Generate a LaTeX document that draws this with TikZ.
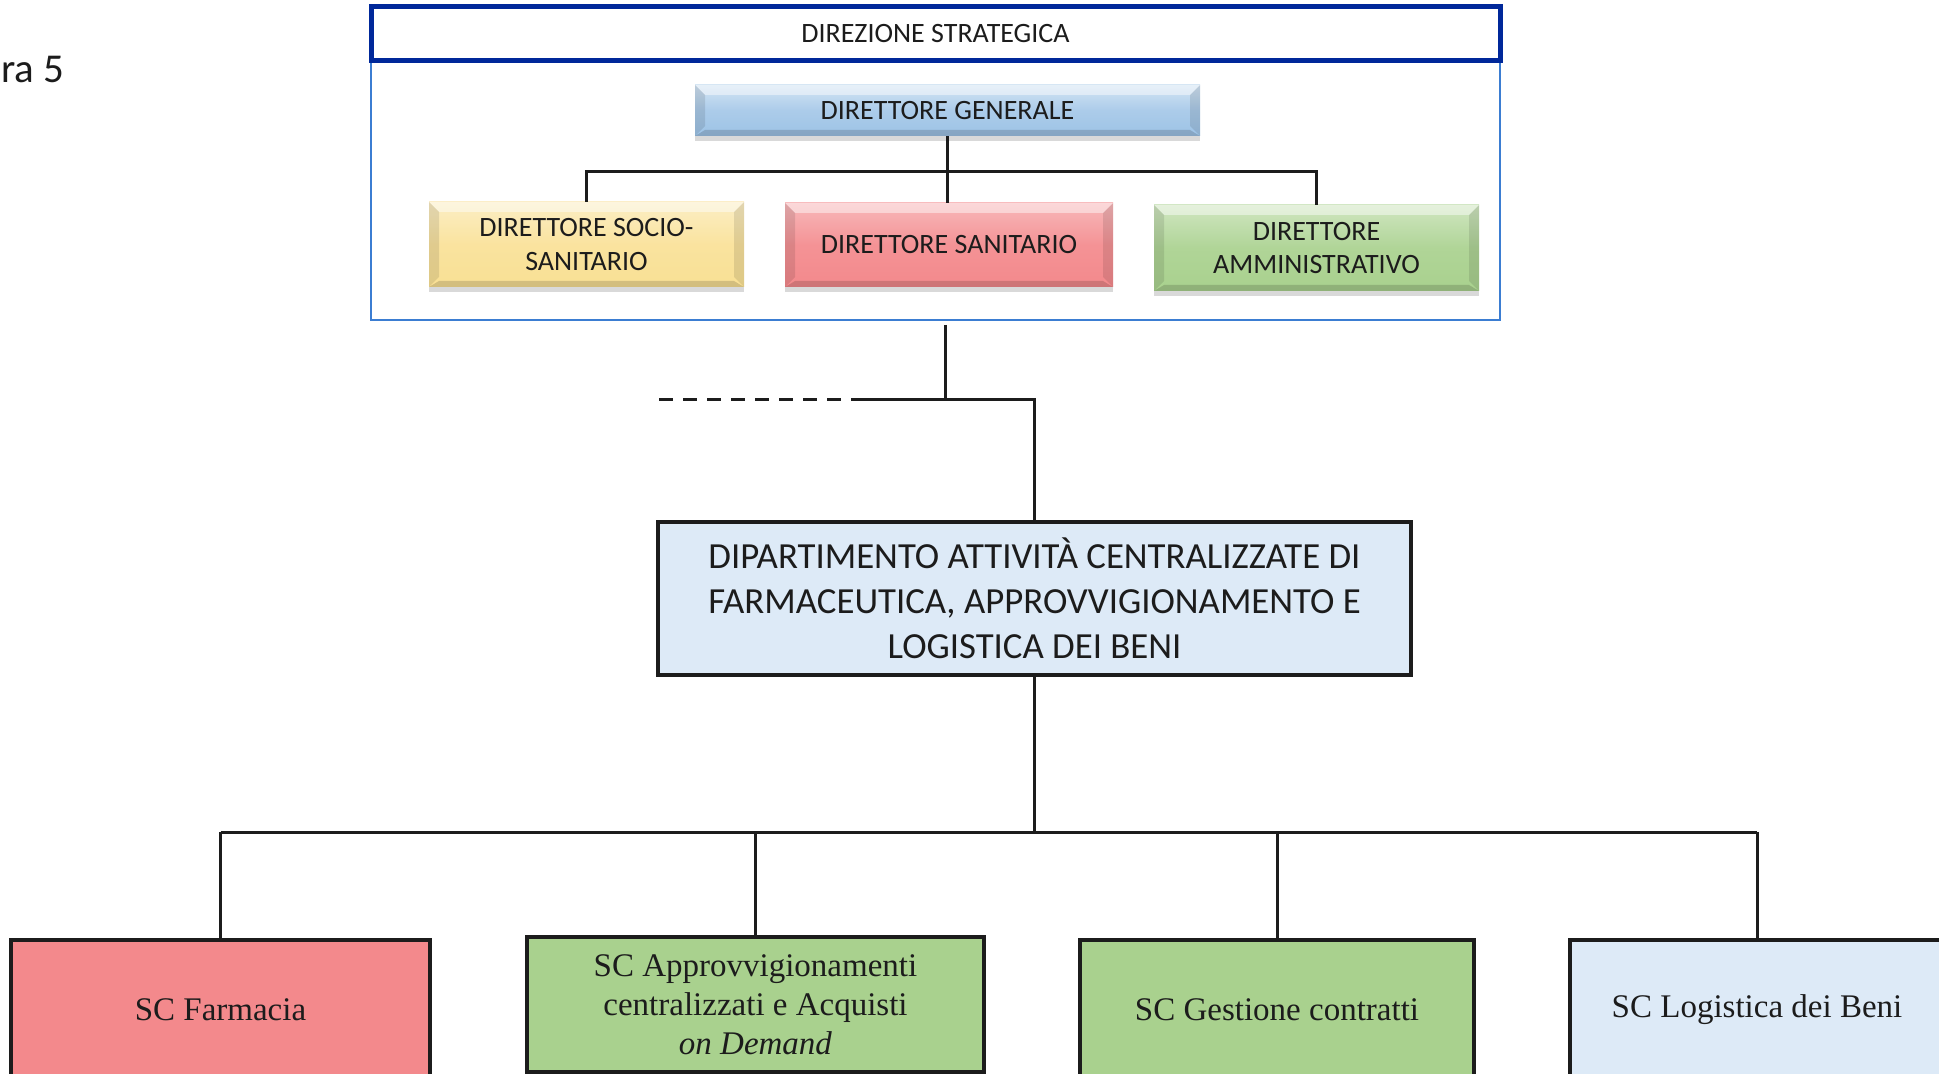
\documentclass[tikz,border=0pt]{standalone}
\usepackage{fontspec}
\setmainfont{Liberation Serif}
\newfontfamily\carlito{Carlito}
\usetikzlibrary{shadows}

\definecolor{dgblue}{HTML}{9DC3E6}
\definecolor{yel}{HTML}{F9E094}
\definecolor{rosso}{HTML}{F3898C}
\definecolor{verde}{HTML}{A9D18E}
\definecolor{celeste}{HTML}{DDEAF7}
\definecolor{hdrblue}{HTML}{00289A}
\definecolor{frameblue}{HTML}{3B7DD2}
\definecolor{ink}{HTML}{1C1C1C}

\tikzset{
  conn/.style={draw=ink, line width=1.5pt},
  bevelled/.style={path picture={
      \fill[white,opacity=.45] (path picture bounding box.north west)
        -- (path picture bounding box.north east) -- ++(-5pt,-5pt)
        -- ([shift={(5pt,-5pt)}]path picture bounding box.north west) -- cycle;
      \fill[black,opacity=.10] (path picture bounding box.north west) -- ++(5pt,-5pt)
        -- ([shift={(5pt,5pt)}]path picture bounding box.south west)
        -- (path picture bounding box.south west) -- cycle;
      \fill[black,opacity=.10] (path picture bounding box.north east) -- ++(-5pt,-5pt)
        -- ([shift={(-5pt,5pt)}]path picture bounding box.south east)
        -- (path picture bounding box.south east) -- cycle;
      \fill[black,opacity=.15] (path picture bounding box.south west)
        -- (path picture bounding box.south east) -- ++(-5pt,3pt)
        -- ([shift={(5pt,3pt)}]path picture bounding box.south west) -- cycle;
    }},
  role/.style={inner sep=0pt, align=center, text=ink, bevelled,
    font=\carlito\fontsize{14pt}{16.8pt}\selectfont,
    drop shadow={opacity=.3, shadow xshift=0pt, shadow yshift=-2.5pt}},
  unit/.style={draw=ink, line width=2pt, inner sep=0pt, align=center, text=ink,
    font=\fontsize{16.5pt}{19.5pt}\selectfont},
}

\begin{document}
\begin{tikzpicture}[x=0.5pt, y=-0.5pt]
\useasboundingbox (0,0) rectangle (1939,1074);
\clip (0,0) rectangle (1939,1074);

% caption fragment at the left edge
\node[anchor=base west, inner sep=0pt, text=ink,
      font=\carlito\fontsize{20.5pt}{24pt}\selectfont] (cap) at (1,83) {ra 5};

% strategic management group
\node[draw=frameblue, line width=1pt, minimum width=564.5pt, minimum height=129.5pt,
      inner sep=0pt] (grp) at (935.5,190.5) {};
\node[draw=hdrblue, fill=white, line width=2.5pt, minimum width=564.5pt,
      minimum height=27pt, inner sep=0pt, text=ink,
      font=\carlito\fontsize{14pt}{16.8pt}\selectfont] (hdr) at (935.5,34) {DIREZIONE STRATEGICA};

\node[role, top color=dgblue!45!white, bottom color=dgblue, middle color=dgblue!85!white,
      minimum width=252.5pt, minimum height=25.5pt] (dg) at (947.5,110.5) {DIRETTORE GENERALE};
\node[role, top color=yel!55!white, bottom color=yel, middle color=yel!90!white,
      minimum width=157.5pt, minimum height=42.5pt] (dss) at (586.5,244.5) {DIRETTORE SOCIO-\\SANITARIO};
\node[role, top color=rosso!60!white, bottom color=rosso, middle color=rosso!92!white,
      minimum width=164pt, minimum height=42pt] (ds) at (949,245) {DIRETTORE SANITARIO};
\node[role, top color=verde!55!white, bottom color=verde, middle color=verde!92!white,
      minimum width=162.5pt, minimum height=43pt] (da) at (1316.5,248) {DIRETTORE\\AMMINISTRATIVO};

% department
\node[unit, fill=celeste, minimum width=376.5pt, minimum height=76.5pt,
      font=\carlito\fontsize{18.4pt}{22.5pt}\selectfont] (dep) at (1034.5,598.5)
  {DIPARTIMENTO ATTIVITÀ CENTRALIZZATE DI\\FARMACEUTICA, APPROVVIGIONAMENTO E\\LOGISTICA DEI BENI};

% operating units
\node[unit, fill=rosso, minimum width=209.5pt, minimum height=70pt] (farm) at (220.5,1010) {SC Farmacia};
\node[unit, fill=verde, minimum width=228.5pt, minimum height=67.5pt] (appr) at (755.5,1004.5)
  {SC Approvvigionamenti\\centralizzati e Acquisti\\\textit{on Demand}};
\node[unit, fill=verde, minimum width=197pt, minimum height=70pt] (gest) at (1277,1010) {SC Gestione contratti};
\node[unit, fill=celeste, minimum width=187pt, minimum height=70pt] (log) at (1757,1010) {SC Logistica dei Beni};

% reference levels for the connectors
\coordinate (tb) at (0,172);
\coordinate (gout) at (945,325);
\coordinate (jn) at (0,400);
\coordinate (dashstart) at (659,400);
\coordinate (dashjoin) at (853,400);
\coordinate (bb) at (0,832);

% connectors inside the group
\draw[conn] (dg.south) -- (dg.south |- ds.north);
\draw[conn] (dss.north) -- (dss.north |- tb) -- (da.north |- tb) -- (da.north);

% group to department
\draw[conn] (gout) -- (gout |- jn) -- (dep.north |- jn) -- (dep.north);
\draw[conn] (dashjoin) -- (gout |- jn);
\draw[conn, dash pattern=on 7pt off 5pt] (dashstart) -- (dashjoin);

% department to units
\draw[conn] (dep.south) -- (dep.south |- bb);
\draw[conn] (farm.north |- bb) -- (log.north |- bb);
\foreach \u in {farm,appr,gest,log}
  \draw[conn] (\u.north |- bb) -- (\u.north);
\end{tikzpicture}
\end{document}
